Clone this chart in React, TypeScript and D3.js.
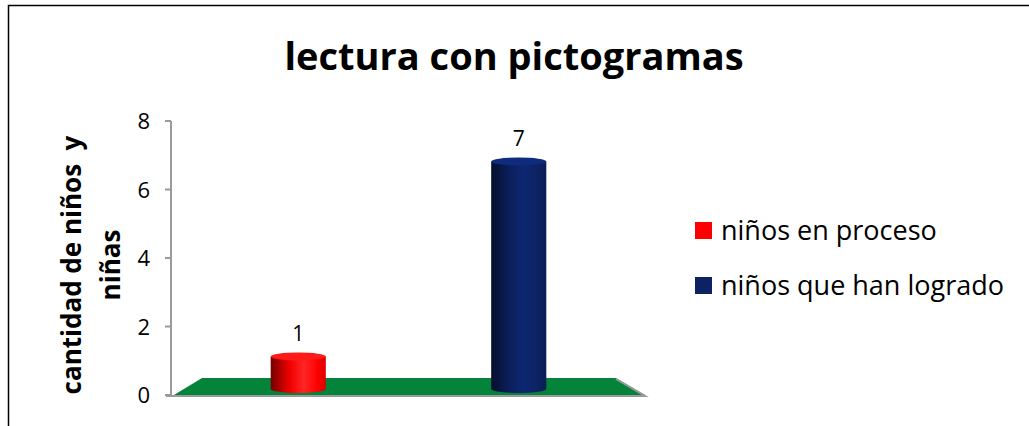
import * as d3 from 'd3';

const categories = ['niños en proceso', 'niños que han logrado'];
const values = [1, 7];
const colors = ['#ff0000', '#0c2262'];
const yTicks = [0, 2, 4, 6, 8];

const W = 1029;
const H = 426;
const FONT = '"Open Sans", Carlito, Calibri, sans-serif';

// back-wall axis scale and (slightly deeper) bar scale
const yAxis = d3.scaleLinear().domain([0, 8]).range([395, 121]);
const yBar = d3.scaleLinear().domain([0, 8]).range([389, 129]);
const x = d3.scaleBand<string>().domain(categories).range([188, 629]).padding(0);

const gradStops = [
  { o: 0, k: 0.45 },
  { o: 0.35, k: 0.95 },
  { o: 0.6, k: 1.15 },
  { o: 0.85, k: 1.0 },
  { o: 1, k: 0.85 },
];

function shade(c: string, k: number) {
  const hsl = d3.hsl(c);
  hsl.l = Math.min(0.95, hsl.l * k);
  return hsl.formatHex();
}

export default function App() {
  const bw = x.bandwidth() * 0.25;
  const ry = 4;
  const floor = [
    [174, 395],
    [202, 378],
    [616, 378],
    [645, 395],
  ];
  const floorPath = d3.line()(floor as [number, number][]) + 'Z';

  return (
    <svg width={W} height={H} style={{ display: 'block', position: 'absolute', left: 0, top: 0 }}>
      <defs>
        {colors.map((c, i) => (
          <linearGradient key={i} id={`cyl${i}`} x1="0" x2="1" y1="0" y2="0">
            {gradStops.map((s, j) => (
              <stop key={j} offset={s.o} stopColor={shade(c, s.k)} />
            ))}
          </linearGradient>
        ))}
      </defs>
      <rect x={0} y={0} width={W} height={H} fill="#fff" />
      {/* chart frame (clipped right/bottom) */}
      <path d={`M8.5,${H} V5.5 H${W}`} fill="none" stroke="#000" strokeWidth={1.5} />

      <text x={514} y={70} textAnchor="middle" fontFamily={FONT} fontWeight="bold" fontSize={38} fill="#000">
        lectura con pictogramas
      </text>

      {/* y axis title */}
      <g transform="translate(81,265) rotate(-90)" fontFamily={FONT} fontWeight="bold" fontSize={26} fill="#000">
        <text x={0} y={0} textAnchor="middle" style={{ whiteSpace: 'pre' }}>cantidad de niños  y</text>
        <text x={0} y={39} textAnchor="middle">niñas</text>
      </g>

      {/* y axis */}
      <line x1={171} x2={171} y1={yAxis(8)} y2={yAxis(0)} stroke="#9a9a9a" strokeWidth={2} />
      {yTicks.map((t) => (
        <g key={t}>
          <line x1={165} x2={171} y1={yAxis(t)} y2={yAxis(t)} stroke="#9a9a9a" strokeWidth={2} />
          <text x={150} y={yAxis(t) + 8} textAnchor="end" fontFamily={FONT} fontSize={22} fill="#000">
            {t}
          </text>
        </g>
      ))}

      {/* floor */}
      <path d={floorPath} fill="#04833a" />
      <path d={`M166,396 H645 L616,379`} fill="none" stroke="#9a9a9a" strokeWidth={2} />

      {/* cylinders */}
      {categories.map((c, i) => {
        const cx = (x(c) ?? 0) + x.bandwidth() / 2;
        const top = yBar(values[i]);
        const base = yBar(0);
        const l = cx - bw / 2;
        const r = cx + bw / 2;
        const body = `M${l},${top} V${base} A${bw / 2},${ry} 0 0 0 ${r},${base} V${top} Z`;
        return (
          <g key={c}>
            <path d={body} fill={`url(#cyl${i})`} />
            <ellipse cx={cx} cy={top} rx={bw / 2} ry={ry} fill={shade(colors[i], i === 0 ? 1.1 : 1.25)} />
            <text x={cx} y={top - 16} textAnchor="middle" fontFamily={FONT} fontSize={21} fill="#000">
              {values[i]}
            </text>
          </g>
        );
      })}

      {/* legend */}
      {categories.map((c, i) => (
        <g key={c} transform={`translate(695,${222 + i * 55})`}>
          <rect x={0} y={0} width={17} height={17} fill={colors[i]} />
          <text x={26} y={18} fontFamily={FONT} fontSize={27} fill="#000">
            {c}
          </text>
        </g>
      ))}
    </svg>
  );
}
